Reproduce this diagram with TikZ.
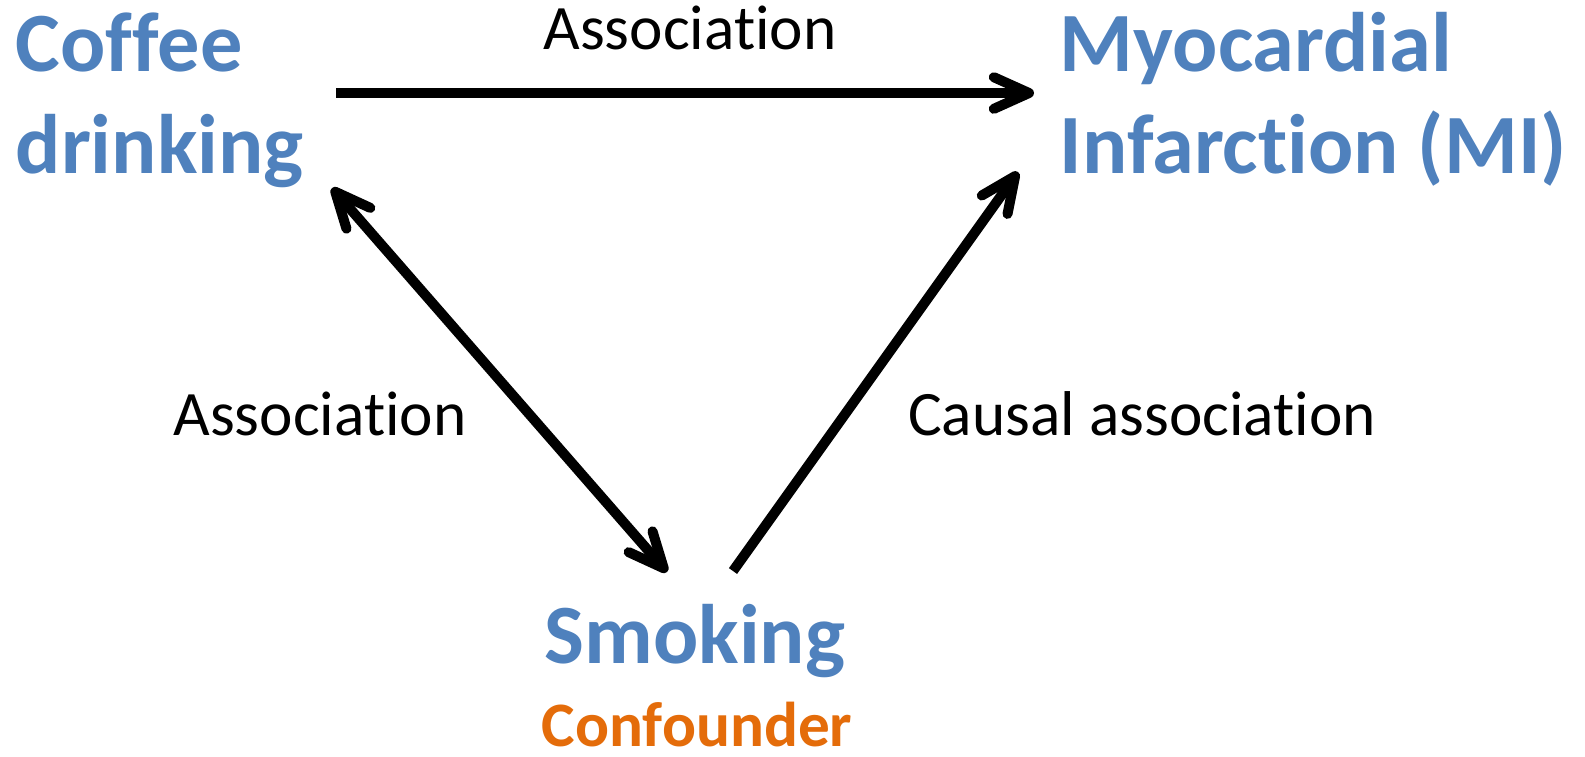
\documentclass[tikz,border=0pt]{standalone}
\usepackage{fontspec}
\setmainfont[Ligatures=NoCommon]{Carlito}
\usetikzlibrary{arrows.meta}
\definecolor{ablue}{HTML}{4F81BD}
\definecolor{aorange}{HTML}{E46C0A}
\begin{document}
\begin{tikzpicture}[x=0.01cm,y=-0.01cm,
  big/.style={font=\fontsize{24}{29}\selectfont\bfseries, text=ablue, inner sep=0pt, align=left},
  lbl/.style={font=\fontsize{18}{22}\selectfont, inner sep=0pt},
  arr/.style={line width=2.85pt, -{Straight Barb[length=10pt,width=9pt,line cap=round,line join=round]}},
  darr/.style={line width=2.85pt, {Straight Barb[length=10pt,width=9pt,line cap=round,line join=round]}-{Straight Barb[length=10pt,width=9pt,line cap=round,line join=round]}}]
\useasboundingbox (0,0) rectangle (1585,756);
\node[big, anchor=base west] (coffee) at (15,173) {Coffee\\drinking};
\node[big, anchor=base west] (mi) at (1059,173) {Myocardial\\Infarction (MI)};
\node[big, anchor=base] (smoking) at (695,663) {Smoking};
\node[font=\fontsize{18}{22}\selectfont\bfseries, text=aorange, inner sep=0pt, anchor=base] (conf) at (697,746) {Confounder};
\node[lbl, anchor=base] (l1) at (690,49) {Association};
\node[lbl, anchor=base] (l2) at (320,435) {Association};
\node[lbl, anchor=base] (l3) at (1142,435) {Causal association};
\coordinate (cE) at (336,93);
\coordinate (mW) at (1034,93);
\coordinate (cS) at (332,188);
\coordinate (sNW) at (667,572);
\coordinate (sNE) at (733,571);
\coordinate (mSW) at (1018,172);
\draw[arr] (cE) -- (mW);
\draw[darr] (cS) -- (sNW);
\draw[arr] (sNE) -- (mSW);
\end{tikzpicture}
\end{document}
